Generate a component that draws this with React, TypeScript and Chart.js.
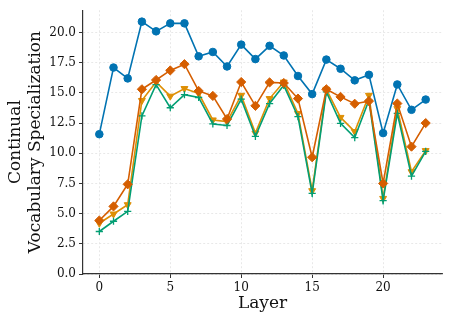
import React, { useEffect, useRef } from "react";
import { Chart, registerables } from "chart.js";

Chart.register(...registerables);

const layers = Array.from({ length: 24 }, (_, i) => i);

const blueCircle = [11.58, 17.1, 16.2, 20.9, 20.1, 20.76, 20.76, 18.03, 18.39, 17.19, 19.0, 17.8, 18.9, 18.1, 16.4, 14.9, 17.76, 17.0, 16.04, 16.5, 11.67, 15.7, 13.6, 14.45];
const redDiamond = [4.43, 5.6, 7.43, 15.3, 16.07, 16.86, 17.38, 15.16, 14.75, 12.84, 15.9, 13.93, 15.87, 15.82, 14.53, 9.67, 15.3, 14.67, 14.1, 14.32, 7.5, 14.12, 10.55, 12.5];
const yellowTriangle = [4.2, 4.97, 5.74, 14.37, 15.9, 14.73, 15.36, 14.95, 12.76, 12.62, 14.8, 11.67, 14.53, 15.9, 13.3, 6.9, 15.3, 12.97, 11.8, 14.8, 6.26, 13.7, 8.47, 10.22];
const greenPlus = [3.52, 4.37, 5.19, 13.09, 15.68, 13.77, 14.86, 14.62, 12.43, 12.3, 14.48, 11.4, 14.12, 15.63, 13.03, 6.67, 15.08, 12.48, 11.3, 14.4, 6.07, 13.3, 8.11, 10.16];

const xTicks = [0, 5, 10, 15, 20];
const yTicks = [0, 2.5, 5, 7.5, 10, 12.5, 15, 17.5, 20];

const xTitle = "Layer";
const yTitle = ["Continual", "Vocabulary Specialization"];

const FONT = "'DejaVu Serif', serif";

function toPts(vals: number[]) {
  return vals.map((v, i) => ({ x: layers[i], y: v }));
}

export default function App() {
  const ref = useRef<HTMLCanvasElement | null>(null);

  useEffect(() => {
    if (!ref.current) return;
    const common = { borderWidth: 1.6, showLine: true, tension: 0, fill: false };
    const chart = new Chart(ref.current, {
      type: "scatter",
      data: {
        datasets: [
          {
            ...common,
            data: toPts(redDiamond),
            borderColor: "#d55e00",
            backgroundColor: "#d55e00",
            pointStyle: "rectRot",
            pointRadius: 4.6,
            pointBorderWidth: 1,
          },
          {
            ...common,
            data: toPts(greenPlus),
            borderColor: "#029e73",
            backgroundColor: "#029e73",
            pointStyle: "cross",
            pointRadius: 3.6,
            pointBorderWidth: 1.3,
          },
          {
            ...common,
            data: toPts(yellowTriangle),
            borderColor: "#de8f05",
            backgroundColor: "#de8f05",
            pointStyle: "triangle",
            pointRotation: 180,
            pointRadius: 4,
            pointBorderWidth: 1,
          },
          {
            ...common,
            data: toPts(blueCircle),
            borderColor: "#0173b2",
            backgroundColor: "#0173b2",
            pointStyle: "circle",
            pointRadius: 3.8,
            pointBorderWidth: 1,
          },
        ],
      },
      options: {
        responsive: false,
        animation: false,
        layout: { padding: { top: 7, right: 7, left: 6, bottom: 8 } },
        plugins: { legend: { display: false }, tooltip: { enabled: false } },
        scales: {
          x: {
            type: "linear",
            min: -1.15,
            max: 24.15,
            afterFit: (s: any) => { s.height = 40; },
            afterBuildTicks: (s: any) => { s.ticks = xTicks.map((v) => ({ value: v })); },
            ticks: {
              font: { family: FONT, size: 12 },
              color: "#111",
              padding: 3,
              maxRotation: 0,
            },
            grid: {
              color: "#e3e3e3",
              lineWidth: 0.8,
              tickColor: "#333",
              tickLength: 4,
              tickWidth: 1,
            },
            border: { display: true, color: "#333", width: 1.2, dash: [2, 2] },
            title: {
              display: true,
              text: xTitle,
              font: { family: FONT, size: 17 },
              color: "#111",
              padding: { top: 0, bottom: 0 },
            },
          },
          y: {
            type: "linear",
            min: 0,
            max: 21.85,
            afterFit: (s: any) => { s.width = 77; },
            afterBuildTicks: (s: any) => { s.ticks = yTicks.map((v) => ({ value: v })); },
            ticks: {
              font: { family: FONT, size: 12 },
              color: "#111",
              padding: 3,
              callback: (v: any) => Number(v).toFixed(1),
            },
            grid: {
              color: "#e3e3e3",
              lineWidth: 0.8,
              tickColor: "#333",
              tickLength: 4,
              tickWidth: 1,
            },
            border: { display: true, color: "#333", width: 1.2, dash: [2, 2] },
            title: {
              display: true,
              text: yTitle,
              font: { family: FONT, size: 17, lineHeight: 1.15 },
              color: "#111",
              padding: { top: 0, bottom: 0 },
            },
          },
        },
      },
    });
    return () => chart.destroy();
  }, []);

  return (
    <div style={{ position: "absolute", left: 0, top: 0, width: 449, height: 322, background: "#fff" }}>
      <canvas ref={ref} width={449} height={322} style={{ display: "block" }} />
    </div>
  );
}
